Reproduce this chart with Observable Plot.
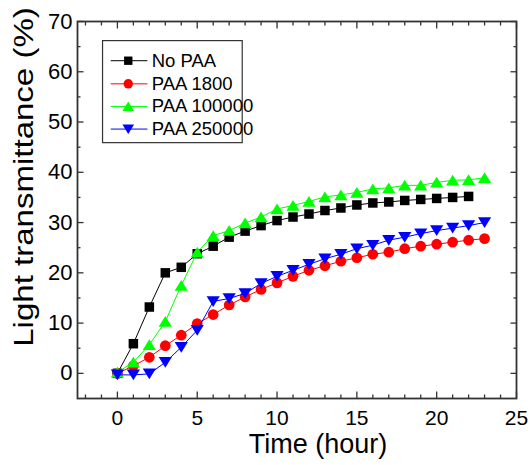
<!DOCTYPE html>
<html>
<head>
<meta charset="utf-8">
<script src="https://cdn.jsdelivr.net/npm/d3@7"></script>
<script src="https://cdn.jsdelivr.net/npm/@observablehq/plot@0.6"></script>
<style>
  html, body { margin: 0; padding: 0; background: #fff; }
</style>
</head>
<body>
<div id="chart"></div>
<script>
// ---- data ----
const hours = [0, 1, 2, 3, 4, 5, 6, 7, 8, 9, 10, 11, 12, 13, 14, 15, 16, 17, 18, 19, 20, 21, 22, 23];
const noPAA     = [0, 5.9, 13.2, 20.0, 21.1, 23.8, 25.3, 27.1, 28.3, 29.4, 30.4, 31.1, 31.7, 32.4, 32.9, 33.5, 33.9, 34.1, 34.4, 34.6, 34.8, 35.0, 35.2];
const paa1800   = [0, 1.5, 3.2, 5.5, 7.6, 9.9, 11.7, 13.6, 15.2, 16.7, 18.0, 19.3, 20.5, 21.4, 22.3, 23.0, 23.7, 24.1, 24.8, 25.3, 25.7, 26.1, 26.5, 26.8];
const paa100000 = [0.2, 2.2, 5.7, 10.3, 17.5, 24.1, 27.4, 28.4, 29.9, 31.1, 32.7, 33.4, 34.2, 35.1, 35.5, 36.0, 36.7, 36.9, 37.4, 37.4, 38.0, 38.4, 38.5, 38.9];
const paa250000 = [-0.3, -0.3, -0.1, 2.2, 5.2, 8.6, 14.3, 14.9, 15.9, 17.9, 19.3, 20.5, 21.7, 22.8, 23.7, 24.8, 25.5, 26.5, 27.1, 27.8, 28.4, 28.9, 29.4, 30.0];

const seriesNames  = ["No PAA", "PAA 1800", "PAA 100000", "PAA 250000"];
const seriesColors = ["#000000", "#ff0000", "#00ff00", "#0000ff"];
const seriesValues = [noPAA, paa1800, paa100000, paa250000];

const xMajorTicks = [0, 5, 10, 15, 20, 25];
const xMinorTicks = [-2, -1, 1, 2, 3, 4, 6, 7, 8, 9, 11, 12, 13, 14, 16, 17, 18, 19, 21, 22, 23, 24];
const yMajorTicks = [0, 10, 20, 30, 40, 50, 60, 70];
const yMinorTicks = [5, 15, 25, 35, 45, 55, 65];

const xTitle = "Time (hour)";
const yTitle = "Light transmittance (%)";

// legend placement in data units
const legendBox = {x1: -0.9, x2: 7.85, y1: 45.8, y2: 66.1};
const legendRowsY = [62.2, 57.6, 53.1, 48.6];
const legendLineX = [-0.42, 1.88];
const legendMarkX = 0.68;
const legendTextX = 2.15;

// ---- custom symbols ----
const sq = {draw(ctx, size) { const r = Math.sqrt(size / Math.PI), s = r * 0.95;
  ctx.moveTo(-s, -s); ctx.lineTo(s, -s); ctx.lineTo(s, s); ctx.lineTo(-s, s); ctx.closePath(); }};
const circ = {draw(ctx, size) { const r = Math.sqrt(size / Math.PI) * 1.07;
  ctx.moveTo(r, 0); ctx.arc(0, 0, r, 0, 2 * Math.PI); ctx.closePath(); }};
const triUp = {draw(ctx, size) { const r = Math.sqrt(size / Math.PI);
  ctx.moveTo(0, -1.1 * r); ctx.lineTo(1.32 * r, 1.05 * r); ctx.lineTo(-1.32 * r, 1.05 * r); ctx.closePath(); }};
const triDown = {draw(ctx, size) { const r = Math.sqrt(size / Math.PI);
  ctx.moveTo(0, 1.1 * r); ctx.lineTo(1.32 * r, -1.05 * r); ctx.lineTo(-1.32 * r, -1.05 * r); ctx.closePath(); }};
const seriesSymbols = [sq, circ, triUp, triDown];

const tables = seriesValues.map(vals => vals.map((v, i) => ({x: hours[i], y: v})));

const seriesMarks = [];
tables.forEach((t, k) => {
  seriesMarks.push(Plot.line(t, {x: "x", y: "y", stroke: seriesColors[k], strokeWidth: 1}));
  seriesMarks.push(Plot.dot(t, {x: "x", y: "y", fill: seriesColors[k], r: 5, symbol: seriesSymbols[k]}));
});

const legendMarks = [
  Plot.rect([legendBox], {x1: "x1", x2: "x2", y1: "y1", y2: "y2", fill: "white", stroke: "#333", strokeWidth: 1.2})
];
seriesNames.forEach((name, k) => {
  const row = [{x1: legendLineX[0], x2: legendLineX[1], xm: legendMarkX, xt: legendTextX, y: legendRowsY[k], name}];
  legendMarks.push(Plot.link(row, {x1: "x1", x2: "x2", y1: "y", y2: "y", stroke: seriesColors[k], strokeWidth: 1}));
  legendMarks.push(Plot.dot(row, {x: "xm", y: "y", fill: seriesColors[k], r: 4.4, symbol: seriesSymbols[k]}));
  legendMarks.push(Plot.text(row, {x: "xt", y: "y", text: "name", textAnchor: "start", fontSize: 18.5, fill: "black"}));
});

const axisStyle = {stroke: "#333", strokeWidth: 1.3, label: null};

const chart = Plot.plot({
  width: 531,
  height: 465,
  marginLeft: 77,
  marginRight: 15,
  marginTop: 21,
  marginBottom: 67,
  x: {domain: [-2.5, 25], label: null},
  y: {domain: [-5, 70], label: null},
  style: {fontFamily: "'Liberation Sans', Arial, sans-serif", background: "#fff", color: "black"},
  marks: [
    Plot.axisX(xMinorTicks, {anchor: "bottom", tickSize: -3.5, fill: "none", ...axisStyle}),
    Plot.axisX(xMajorTicks, {anchor: "bottom", tickSize: -6.5, tickPadding: 18.5, fill: "black", fontSize: 21, ...axisStyle}),
    Plot.axisX(xMinorTicks, {anchor: "top", tickSize: -3.5, fill: "none", ...axisStyle}),
    Plot.axisX(xMajorTicks, {anchor: "top", tickSize: -6.5, fill: "none", ...axisStyle}),
    Plot.axisY(yMinorTicks, {anchor: "left", tickSize: -3.5, fill: "none", ...axisStyle}),
    Plot.axisY(yMajorTicks, {anchor: "left", tickSize: -6.5, tickPadding: 11.5, fill: "black", fontSize: 22, ...axisStyle}),
    Plot.axisY(yMinorTicks, {anchor: "right", tickSize: -3.5, fill: "none", ...axisStyle}),
    Plot.axisY(yMajorTicks, {anchor: "right", tickSize: -6.5, fill: "none", ...axisStyle}),
    ...seriesMarks,
    ...legendMarks,
    Plot.frame({stroke: "#333", strokeWidth: 1.8}),
    Plot.text([xTitle], {frameAnchor: "bottom", dx: 21, dy: 35, lineAnchor: "top", textAnchor: "middle", fontSize: 27, fill: "black"}),
    Plot.text([yTitle], {frameAnchor: "left", rotate: -90, dx: -53, dy: -33, textAnchor: "middle", lineAnchor: "middle", fontSize: 28, fill: "black"})
  ]
});

document.getElementById("chart").appendChild(chart);
// the reference's y title is drawn stretched along its length
d3.select(chart).selectAll("text").filter(function () { return this.textContent === yTitle; })
  .each(function () {
    const t = this.getAttribute("transform") || "";
    this.setAttribute("transform", t + " scale(1.18,1)");
  });
</script>
</body>
</html>
